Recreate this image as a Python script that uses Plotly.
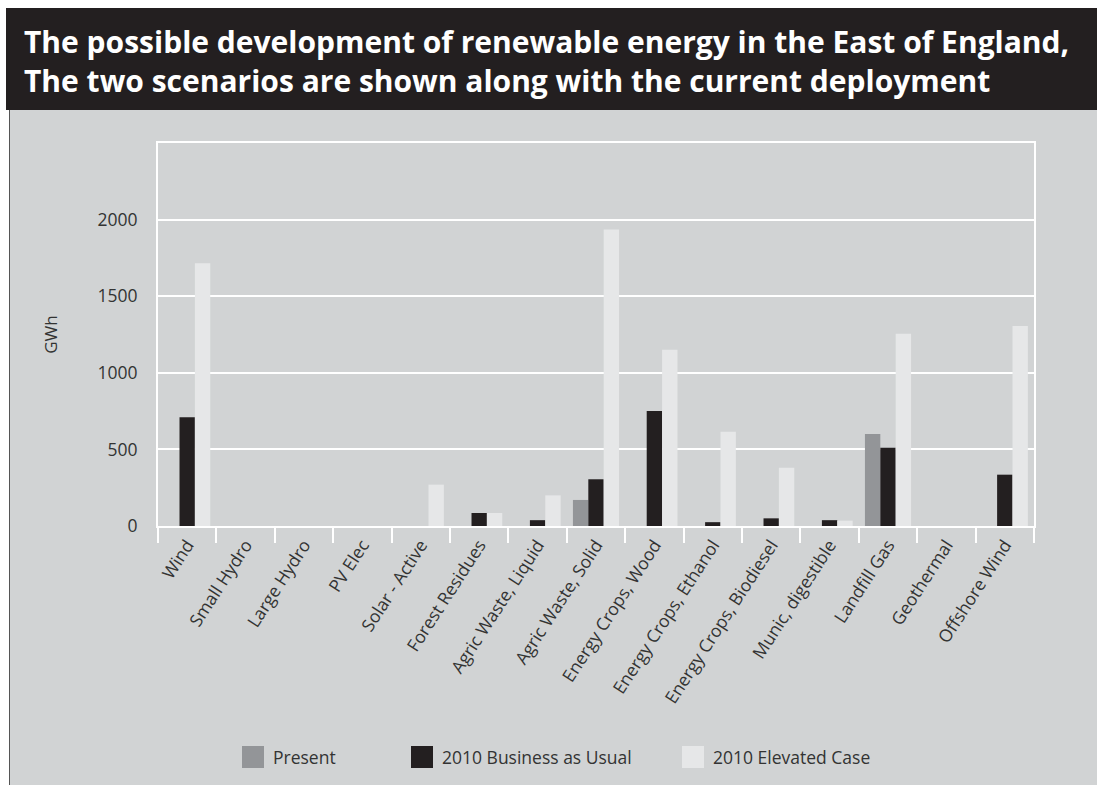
import plotly.graph_objects as go

categories = ["Wind", "Small Hydro", "Large Hydro", "PV Elec", "Solar - Active",
              "Forest Residues", "Agric Waste, Liquid", "Agric Waste, Solid",
              "Energy Crops, Wood", "Energy Crops, Ethanol", "Energy Crops, Biodiesel",
              "Munic, digestible", "Landfill Gas", "Geothermal", "Offshore Wind"]
present = [0, 0, 0, 0, 0, 0, 0, 170, 0, 0, 0, 0, 600, 0, 0]
bau = [710, 0, 0, 0, 0, 85, 38, 305, 750, 25, 50, 38, 510, 0, 335]
elevated = [1715, 0, 0, 0, 270, 85, 200, 1935, 1150, 615, 380, 35, 1255, 0, 1305]

series_names = ["Present", "2010 Business as Usual", "2010 Elevated Case"]
series_colors = ["#939598", "#231f20", "#e6e7e8"]
y_ticks = [0, 500, 1000, 1500, 2000]

title_lines = ["The possible development of renewable energy in the East of England,",
               "The two scenarios are shown along with the current deployment"]

W, H = 1097, 785
L, R, T, B = 158, 63, 143, 259
PW, PH = W - L - R, H - T - B
BG = "#d1d3d4"
FONT = "Open Sans"
TXT = "#333333"


def xp(px):
    return (px - L) / PW


def yp(py):
    return (H - B - py) / PH


fig = go.Figure()
for name, vals, col in zip(series_names, [present, bau, elevated], series_colors):
    fig.add_trace(go.Bar(x=categories, y=vals, name=name, marker_color=col,
                         marker_line_width=0, showlegend=False))

shapes = [
    dict(type="rect", xref="paper", yref="paper", x0=xp(0), x1=xp(W), y0=yp(0), y1=yp(8),
         fillcolor="white", line_width=0),
    dict(type="rect", xref="paper", yref="paper", x0=xp(0), x1=xp(9), y0=yp(0), y1=yp(H),
         fillcolor="white", line_width=0),
    dict(type="rect", xref="paper", yref="paper", x0=xp(6), x1=xp(W), y0=yp(8), y1=yp(110),
         fillcolor="#231f20", line_width=0),
    dict(type="line", xref="paper", yref="paper", x0=xp(9.5), x1=xp(9.5), y0=yp(110), y1=yp(H),
         line=dict(color="#555555", width=1)),
]

annotations = [
    dict(text="<br>".join(title_lines), xref="paper", yref="paper", x=xp(22), y=yp(61),
         xanchor="left", yanchor="middle", align="left", showarrow=False,
         font=dict(family=FONT, size=30, color="white", weight="bold")),
]

legend_x = [242, 411, 682]
for lx, name, col in zip(legend_x, series_names, series_colors):
    shapes.append(dict(type="rect", xref="paper", yref="paper", x0=xp(lx), x1=xp(lx + 22),
                       y0=yp(746), y1=yp(768), fillcolor=col, line_width=0))
    annotations.append(dict(text=name, xref="paper", yref="paper", x=xp(lx + 29), y=yp(757),
                            xanchor="left", yanchor="middle", showarrow=False,
                            font=dict(family=FONT, size=17.5, color=TXT)))

fig.update_layout(
    width=W, height=H,
    margin=dict(l=L, r=R, t=T, b=B, pad=0),
    paper_bgcolor=BG, plot_bgcolor=BG,
    barmode="group", bargap=0.21, bargroupgap=0,
    font=dict(family=FONT, size=17.5, color=TXT),
    shapes=shapes, annotations=annotations,
    xaxis=dict(showline=True, linecolor="white", linewidth=2, mirror=True,
               ticks="outside", tickson="boundaries", ticklen=15, tickwidth=2,
               tickcolor="white", tickangle=-57, showgrid=False,
               tickfont=dict(family=FONT, size=17.5, color=TXT)),
    yaxis=dict(range=[0, 2500], tickvals=y_ticks, showline=True, linecolor="white",
               linewidth=2, mirror=True, showgrid=True, gridcolor="white", gridwidth=2,
               zeroline=False, ticks="outside", ticklen=15, tickcolor="rgba(0,0,0,0)",
               tickfont=dict(family=FONT, size=17.5, color=TXT),
               title=dict(text="GWh", standoff=36, font=dict(family=FONT, size=17, color=TXT))),
)

fig.write_html("out.html")
